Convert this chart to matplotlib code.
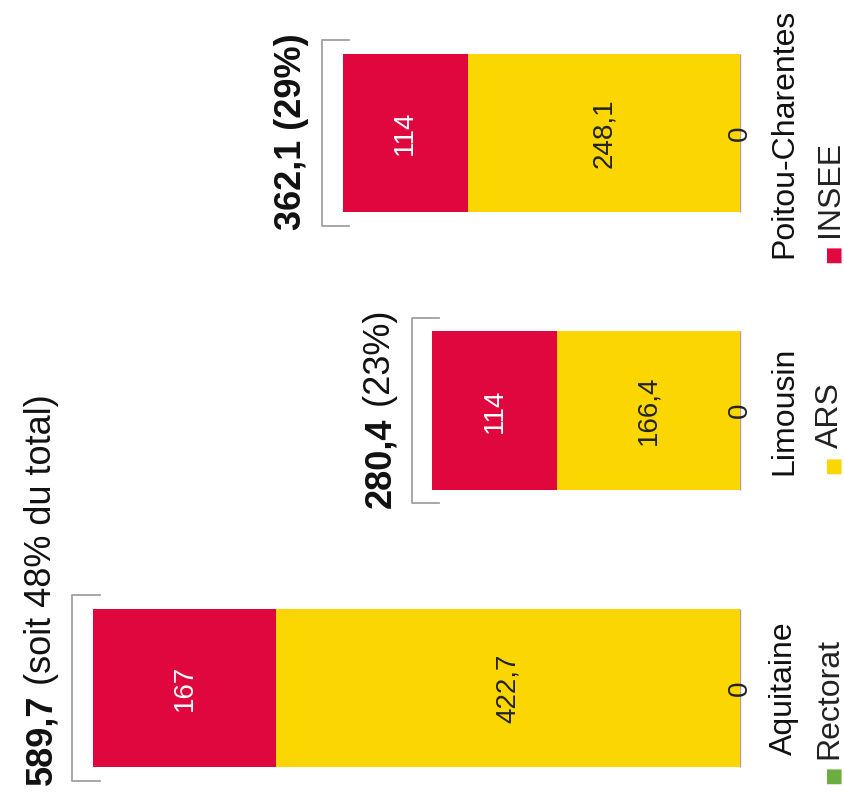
import matplotlib
matplotlib.use("Agg")
import matplotlib.pyplot as plt

# data (chart is drawn rotated, as in the scan)
regions = ["Aquitaine", "Limousin", "Poitou-Charentes"]
rectorat = [0, 0, 0]
ars = [422.7, 166.4, 248.1]
insee = [167, 114, 114]
total_bold = ["589,7", "280,4", "362,1 (29%)"]
total_rest = [" (soit 48% du total)", " (23%)", ""]
series_names = ["Rectorat", "ARS", "INSEE"]

c_green = "#6aad3d"
c_yellow = "#fcd600"
c_red = "#e0073e"

plt.rcParams["font.family"] = ["Liberation Sans", "DejaVu Sans"]

fig = plt.figure(figsize=(8.45, 7.96), dpi=100)
ax = fig.add_axes([0, 0, 1, 1])

ypos = list(range(len(regions)))
h = 0.57

ax.barh(ypos, rectorat, height=h, color=c_green, edgecolor="#b59aa6", linewidth=1)
ax.barh(ypos, ars, left=rectorat, height=h, color=c_yellow)
left_insee = [r + a for r, a in zip(rectorat, ars)]
ax.barh(ypos, insee, left=left_insee, height=h, color=c_red)

for i in ypos:
    tot = rectorat[i] + ars[i] + insee[i]
    # segment values
    ax.text(0, i, "0", rotation=90, ha="center", va="center", fontsize=20, color="#222222")
    ax.text(rectorat[i] + ars[i] / 2, i, f"{ars[i]:.1f}".replace(".", ","), rotation=90,
            ha="center", va="center", fontsize=20, color="#222222")
    ax.text(left_insee[i] + insee[i] / 2, i, str(insee[i]), rotation=90,
            ha="center", va="center", fontsize=20, color="white")
    # bracket
    bx = tot + 19
    ax.plot([tot - 6, bx, bx, tot - 6], [i - 0.335, i - 0.335, i + 0.335, i + 0.335],
            color="#a0a0a0", lw=1.3)
    # total label
    t1 = ax.text(tot + 47, i - 0.35, total_bold[i], rotation=90, ha="center", va="bottom",
                 fontsize=26, fontweight="bold", color="#111111")
    if total_rest[i]:
        ax.annotate(total_rest[i], xy=(0.5, 1), xycoords=t1, rotation=90, ha="center",
                    va="bottom", fontsize=26, color="#111111")
    # category label
    ax.text(-40, i, regions[i], rotation=90, ha="center", va="center", fontsize=23, color="#111111")

# legend drawn rotated
leg_y = [0.015, 0.405, 0.67]
for name, col, yy in zip(series_names, [c_green, c_yellow, c_red], leg_y):
    fig.text(0.985, yy, "\u25a0", rotation=90, ha="center", va="bottom", fontsize=14,
             color=col, family="DejaVu Sans")
    fig.text(0.982, yy + 0.032, name, rotation=90, ha="center", va="bottom", fontsize=23,
             color="#222222")

ax.set_xlim(674.6, -95.7)
ax.set_ylim(-0.389, 2.479)
ax.axis("off")

fig.savefig("out.png", dpi=100)
